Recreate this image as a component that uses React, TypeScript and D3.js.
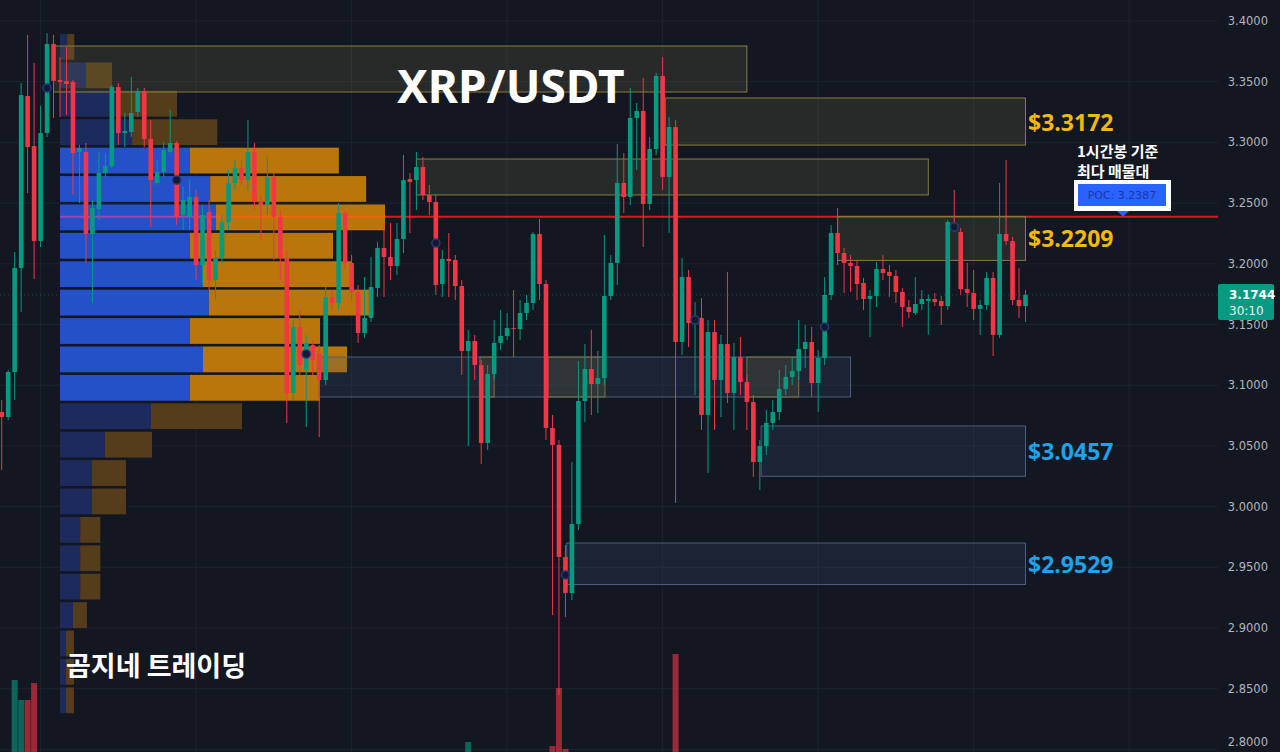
import React from 'react';
import * as d3 from 'd3';

const W = 1280;
const H = 752;

// ---- OHLC (1h candles, XRP/USDT) ----
const opens = [3.0779,3.0738,3.1109,3.1965,3.3382,3.2970,3.2188,3.3077,3.3811,3.3514,3.3506,3.3498,3.2921,3.2921,3.2246,3.2451,3.2748,3.2806,3.3456,3.3077,3.3086,3.3250,3.3423,3.3028,3.2666,3.2756,3.2921,3.2995,3.2402,3.2386,3.2550,3.1990,3.2427,3.1867,3.2048,3.2344,3.2666,3.2789,3.2690,3.2921,3.2509,3.2484,3.2715,3.2386,3.2048,3.0936,3.1480,3.1125,3.1331,3.1265,3.1043,3.1727,3.1677,3.2418,3.2007,3.1768,3.1430,3.1554,3.1801,3.2130,3.2056,3.1982,3.2204,3.2699,3.2690,3.2797,3.2567,3.2509,3.1834,3.2040,3.2031,3.1817,3.1282,3.1364,3.1166,3.0524,3.1092,3.1348,3.1405,3.1471,3.1463,3.1595,3.1677,3.2246,3.1834,3.0648,3.0508,2.9585,2.9288,2.9857,3.0870,3.1134,3.1010,3.1059,3.1735,3.2007,3.2666,3.2550,3.3201,3.3259,3.2493,3.2946,3.3547,3.2715,3.3127,3.1356,3.1891,3.1521,3.1554,3.0755,3.1438,3.1043,3.1339,3.0936,3.1232,3.1026,3.0862,3.0367,3.0499,3.0689,3.0779,3.0969,3.1068,3.1117,3.1298,3.1356,3.1018,3.1224,3.1743,3.2254,3.2089,3.2007,3.1982,3.1842,3.1710,3.1735,3.1957,3.1933,3.1900,3.1768,3.1644,3.1595,3.1669,3.1694,3.1710,3.1694,3.1652,3.2311,3.2262,3.1792,3.1760,3.1628,3.1661,3.1883,3.1414,3.2246,3.2188,3.1702,3.1652];
const closes = [3.0738,3.1109,3.1965,3.3390,3.2962,3.2188,3.3077,3.3811,3.3506,3.3498,3.3481,3.2913,3.2954,3.2246,3.2460,3.2748,3.2806,3.3456,3.3077,3.3094,3.3242,3.3423,3.3028,3.2690,3.2756,3.2937,3.2995,3.2386,3.2526,3.2550,3.1990,3.2402,3.1867,3.2048,3.2344,3.2666,3.2789,3.2690,3.2921,3.2509,3.2484,3.2715,3.2386,3.2048,3.0936,3.1480,3.1166,3.1348,3.1208,3.1043,3.1727,3.1677,3.2418,3.2007,3.1768,3.1430,3.1554,3.1809,3.2130,3.2056,3.1982,3.2204,3.2690,3.2674,3.2797,3.2567,3.2509,3.1825,3.2040,3.2023,3.1817,3.1282,3.1364,3.1166,3.0524,3.1092,3.1348,3.1405,3.1471,3.1463,3.1595,3.1677,3.2246,3.1834,3.0648,3.0508,2.9585,2.9288,2.9857,3.0870,3.1134,3.1010,3.1059,3.1735,3.2007,3.2666,3.2550,3.3201,3.3259,3.2493,3.2946,3.3547,3.2715,3.3127,3.1356,3.1891,3.1512,3.1554,3.0755,3.1438,3.1043,3.1339,3.0936,3.1232,3.1026,3.0862,3.0367,3.0499,3.0689,3.0779,3.0969,3.1068,3.1117,3.1298,3.1356,3.1018,3.1224,3.1743,3.2254,3.2089,3.2007,3.1982,3.1834,3.1710,3.1735,3.1957,3.1924,3.1900,3.1768,3.1644,3.1603,3.1669,3.1710,3.1710,3.1685,3.1652,3.2344,3.2287,3.1792,3.1760,3.1628,3.1661,3.1883,3.1414,3.2246,3.2188,3.1702,3.1652,3.1744];
const highs = [3.0878,3.1125,3.2097,3.3489,3.3885,3.3654,3.3300,3.3901,3.3885,3.3703,3.3786,3.3514,3.2979,3.2995,3.2526,3.2921,3.2913,3.3473,3.3489,3.3242,3.3539,3.3448,3.3448,3.3185,3.2855,3.3003,3.3267,3.3012,3.2633,3.2690,3.2608,3.2484,3.2526,3.2114,3.2402,3.2773,3.2855,3.2855,3.3185,3.2995,3.2567,3.2880,3.2748,3.2443,3.2114,3.1537,3.1620,3.1414,3.1372,3.1331,3.1809,3.1784,3.2501,3.2443,3.2073,3.1825,3.1891,3.2056,3.2180,3.2336,3.2336,3.2336,3.2896,3.2748,3.2921,3.2880,3.2649,3.2567,3.2114,3.2254,3.2073,3.1867,3.1455,3.1414,3.1208,3.1166,3.1537,3.1620,3.1595,3.1784,3.1702,3.1743,3.2262,3.2369,3.1867,3.0755,3.0549,2.9684,3.0367,3.1199,3.1339,3.1455,3.1282,3.2237,3.2073,3.2987,3.2913,3.3448,3.3325,3.3531,3.3045,3.3572,3.3703,3.3209,3.3185,3.2048,3.1949,3.1685,3.1718,3.1537,3.1537,3.1414,3.1933,3.1348,3.1397,3.1084,3.0919,3.0549,3.0796,3.0878,3.1125,3.1166,3.1232,3.1537,3.1496,3.1480,3.1290,3.1891,3.2320,3.2460,3.2130,3.2073,3.2031,3.1883,3.1784,3.2015,3.2073,3.1990,3.1949,3.1801,3.1702,3.1891,3.1784,3.1743,3.1760,3.1735,3.2361,3.2608,3.2295,3.2007,3.1949,3.1702,3.1933,3.1933,3.2666,3.2855,3.2221,3.1965,3.1784];
const lows = [3.0302,3.0713,3.0878,3.1603,3.2583,3.1875,3.2138,3.3045,3.3201,3.3209,3.3226,3.2567,3.2501,3.2007,3.1677,3.2361,3.2715,3.2789,3.2979,3.2962,3.3045,3.3209,3.2962,3.2303,3.2649,3.2715,3.2913,3.2320,3.2278,3.2278,3.1867,3.1825,3.1784,3.1702,3.1990,3.2278,3.2608,3.2649,3.2608,3.2443,3.2196,3.2402,3.2031,3.1867,3.0689,3.0878,3.1084,3.0656,3.1084,3.0573,3.1002,3.1620,3.1620,3.1949,3.1702,3.1348,3.1389,3.1521,3.1727,3.1727,3.1867,3.1908,3.2089,3.2254,3.2443,3.2526,3.2402,3.1743,3.1727,3.1727,3.1702,3.1084,3.0499,3.1043,3.0351,3.0466,3.1043,3.1290,3.1372,3.1232,3.1372,3.1537,3.1620,3.1702,3.0549,2.9107,2.8448,2.9091,2.9231,2.9807,3.0697,3.0755,3.0771,3.1002,3.1702,3.1825,3.2418,3.2484,3.2773,3.2138,3.2443,3.2896,3.2608,3.2254,3.0030,3.1249,3.1315,3.0919,3.0631,3.0277,3.0631,3.0738,3.0853,3.0631,3.0919,3.0631,3.0244,3.0137,3.0425,3.0631,3.0713,3.0919,3.1002,3.1043,3.1142,3.0903,3.0779,3.1166,3.1702,3.1990,3.1760,3.1768,3.1702,3.1620,3.1397,3.1644,3.1867,3.1727,3.1677,3.1480,3.1554,3.1578,3.1620,3.1414,3.1652,3.1496,3.1620,3.2262,3.1743,3.1644,3.1537,3.1414,3.1620,3.1241,3.1389,3.2155,3.1661,3.1554,3.1521];

// volume bars that rise into view (candle index, volume in M)
const volIndex = [2, 3, 4, 5, 72, 85, 86, 87, 104];
const volValue = [40, 30, 30, 38.5, 9, 7, 36, 5.5, 53];

// volume profile (top row first), buy / sell volume share
const profileTop = 3.3901;
const profileStep = 0.0234;
const profileBuy  = [2.2, 8.0, 17.8, 22.2, 40.0, 46.2, 48.0, 40.0, 44.0, 45.8, 40.0, 44.0, 40.0, 28.0, 13.8, 9.8, 9.8, 6.2, 6.2, 6.2, 4.0, 1.8, 1.8, 1.8];
const profileSell = [2.2, 8.0, 18.2, 26.2, 45.8, 48.0, 52.0, 44.0, 45.8, 49.8, 40.0, 44.3, 40.0, 28.0, 14.5, 10.5, 10.5, 6.2, 6.2, 6.2, 4.3, 2.5, 2.5, 2.5];
const valueAreaRows = [4, 12];
const pocPrice = 3.2387;
const lastPrice = 3.1744;

// price axis ticks
const priceTicks = [3.4, 3.35, 3.3, 3.25, 3.2, 3.15, 3.1, 3.05, 3.0, 2.95, 2.9, 2.85, 2.8];
// day separators (candle index)
const dayIndex = [6, 30, 54, 78, 102, 126, 150, 174];

// markers (candle index, price)
const markerIndex = [7, 27, 47, 67, 87, 107, 127, 147];
const markerPrice = [3.3448, 3.2690, 3.1257, 3.2171, 2.9437, 3.1537, 3.1480, 3.2303];

// zones: [startIdx, endIdx, top, bottom]
const yellowZones = [
  [8, 115, 3.3794, 3.3415],
  [102.4, 158, 3.3366, 3.2978],
  [64, 143, 3.2863, 3.2567],
  [129, 158, 3.2390, 3.2028],
];
const blueZones = [
  [49, 131, 3.1232, 3.0903],
  [117.2, 158, 3.0664, 3.0250],
  [87.2, 158, 2.9700, 2.9358],
];
const smallYellowZones = [
  [73.8, 76, 3.1232, 3.0903],
  [84.3, 93.1, 3.1232, 3.0903],
  [115, 123, 3.1232, 3.0903],
];
const zoneLabels = [
  { text: '$3.3172', price: 3.3172, color: '#f0b90b' },
  { text: '$3.2209', price: 3.2209, color: '#f0b90b' },
  { text: '$3.0457', price: 3.0457, color: '#1fa2e8' },
  { text: '$2.9529', price: 2.9529, color: '#1fa2e8' },
];

const UP = '#089981';
const DOWN = '#f23645';

export default function App() {
  const x = d3.scaleLinear().domain([0, 158]).range([1.7, 1025.5]);
  const y = d3.scaleLinear().domain([2.8, 3.4]).range([749.4, 21]);
  const vy = d3.scaleLinear().domain([0, 60]).range([760, 640]);
  const px = d3.scaleLinear().domain([0, 100]).range([60, 385]);
  const plotRight = 1218;
  const fmt = d3.format('.4f');
  const bodyW = 4.6;

  const rows = profileBuy.map((b, k) => {
    const top = profileTop - k * profileStep;
    const bot = top - profileStep;
    const bright = k >= valueAreaRows[0] && k <= valueAreaRows[1];
    return { k, b, s: profileSell[k], y0: y(top), y1: y(bot), bright };
  });
  const pocY = y(pocPrice);
  const pocRow = rows.find(r => pocY >= r.y0 && pocY <= r.y1)!;
  const pocBlueEnd = px(pocRow.b);
  const pocEnd = px(pocRow.b + pocRow.s);

  return (
    <svg width={W} height={H} style={{ position: 'absolute', left: 0, top: 0, display: 'block' }}
      fontFamily="'DejaVu Sans', sans-serif">
      <rect x={0} y={0} width={W} height={H} fill="#131722" />
      {/* grid */}
      {priceTicks.map(t => (
        <line key={'h' + t} x1={0} x2={plotRight} y1={y(t)} y2={y(t)} stroke="#1e2331" strokeWidth={1} />
      ))}
      {dayIndex.map(i => (
        <line key={'v' + i} x1={x(i)} x2={x(i)} y1={0} y2={H} stroke="#1e2331" strokeWidth={1} />
      ))}

      {/* volume profile */}
      {rows.map(r => (
        <g key={'p' + r.k}>
          <rect x={px(0)} y={r.y0 + 1} width={px(r.b) - px(0)} height={r.y1 - r.y0 - 2.6}
            fill={r.bright ? '#2451c7' : '#1c2b5c'} />
          <rect x={px(r.b)} y={r.y0 + 1} width={px(r.b + r.s) - px(r.b)} height={r.y1 - r.y0 - 2.6}
            fill={r.bright ? '#b8760c' : '#553c1a'} />
        </g>
      ))}
      <line x1={px(0)} x2={pocBlueEnd} y1={pocY} y2={pocY} stroke="#9a45b0" strokeWidth={2} />
      <line x1={pocBlueEnd} x2={pocEnd} y1={pocY} y2={pocY} stroke="#f0660a" strokeWidth={2} />
      <line x1={pocEnd} x2={plotRight} y1={pocY} y2={pocY} stroke="#e3151d" strokeWidth={2} />

      {/* zones */}
      {yellowZones.map((z, i) => (
        <rect key={'yz' + i} x={x(z[0])} y={y(z[2])} width={x(z[1]) - x(z[0])} height={y(z[3]) - y(z[2])}
          fill="rgba(120,118,70,0.2)" stroke="#8a7d3c" strokeWidth={1} />
      ))}
      {blueZones.map((z, i) => (
        <rect key={'bz' + i} x={x(z[0])} y={y(z[2])} width={x(z[1]) - x(z[0])} height={y(z[3]) - y(z[2])}
          fill="rgba(60,82,120,0.22)" stroke="#4c5f7e" strokeWidth={1} />
      ))}
      {smallYellowZones.map((z, i) => (
        <rect key={'sz' + i} x={x(z[0])} y={y(z[2])} width={x(z[1]) - x(z[0])} height={y(z[3]) - y(z[2])}
          fill="rgba(120,118,70,0.22)" stroke="#7d7340" strokeWidth={1} />
      ))}

      {/* current price line */}
      <line x1={0} x2={plotRight} y1={y(lastPrice)} y2={y(lastPrice)} stroke="rgba(8,153,129,0.45)"
        strokeWidth={1} strokeDasharray="1 3" />

      {/* candles */}
      {opens.map((o, i) => {
        const c = closes[i];
        const up = c >= o;
        const col = up ? UP : DOWN;
        const yt = y(Math.max(o, c));
        const yb = y(Math.min(o, c));
        return (
          <g key={'c' + i}>
            <line x1={x(i)} x2={x(i)} y1={y(highs[i])} y2={y(lows[i])} stroke={col} strokeWidth={1} />
            <rect x={x(i) - bodyW / 2} y={yt} width={bodyW} height={Math.max(1, yb - yt)} fill={col} />
          </g>
        );
      })}

      {/* volume */}
      {volIndex.map((vi, k) => {
        const up = closes[vi] >= opens[vi];
        return (
          <rect key={'vol' + k} x={x(vi) - 3} y={vy(volValue[k])} width={6} height={vy(0) - vy(volValue[k])}
            fill={up ? 'rgba(8,153,129,0.6)' : 'rgba(242,54,69,0.6)'} />
        );
      })}

      {/* markers */}
      {markerIndex.map((mi, k) => (
        <circle key={'m' + k} cx={x(mi)} cy={y(markerPrice[k])} r={4} fill="#141a2e" stroke="#23387a" strokeWidth={1.6} />
      ))}

      {/* zone labels */}
      {zoneLabels.map((l, i) => (
        <text key={'zl' + i} x={1028} y={y(l.price)} dominantBaseline="central" fill={l.color}
          fontFamily="'Open Sans', sans-serif" fontWeight={700} fontSize={23}>{l.text}</text>
      ))}

      {/* POC annotation */}
      <text x={1077} y={150} dominantBaseline="central" fill="#ffffff" fontFamily="'Noto Sans CJK KR', sans-serif"
        fontWeight={700} fontSize={15}>1시간봉 기준</text>
      <text x={1077} y={170} dominantBaseline="central" fill="#ffffff" fontFamily="'Noto Sans CJK KR', sans-serif"
        fontWeight={700} fontSize={15}>최다 매물대</text>
      <rect x={1074} y={180} width={97} height={31} fill="#ffffff" />
      <rect x={1078} y={184} width={88} height={22} fill="#2962ff" />
      <text x={1122} y={195.5} textAnchor="middle" dominantBaseline="central" fill="#1c3a9e" fontSize={11}>
        {'POC: ' + fmt(pocPrice)}
      </text>
      <path d={`M1117,${211} L1129,${211} L1123,${pocY} Z`} fill="#2962ff" />

      {/* title & watermark */}
      <text x={397} y={103} fill="#ffffff" fontFamily="'Noto Sans', sans-serif" fontWeight={700} fontSize={46}>XRP/USDT</text>
      <text x={66} y={664} dominantBaseline="central" fill="#ffffff" fontFamily="'Noto Sans CJK KR', sans-serif"
        fontWeight={700} fontSize={27}>곰지네 트레이딩</text>

      {/* price axis */}
      {priceTicks.map(t => (
        <text key={'t' + t} x={1268} y={Math.min(y(t), 742)} textAnchor="end" dominantBaseline="central" fill="#b2b5be" fontSize={11.5}>
          {fmt(t)}
        </text>
      ))}
      <rect x={1218} y={y(lastPrice) - 11} width={56} height={36} rx={2} fill={UP} />
      <text x={1229} y={y(lastPrice)} dominantBaseline="central" fill="#ffffff" fontSize={12} fontWeight={700}>{fmt(lastPrice)}</text>
      <text x={1229} y={y(lastPrice) + 16} dominantBaseline="central" fill="#e6f4f1" fontSize={12}>30:10</text>
    </svg>
  );
}
